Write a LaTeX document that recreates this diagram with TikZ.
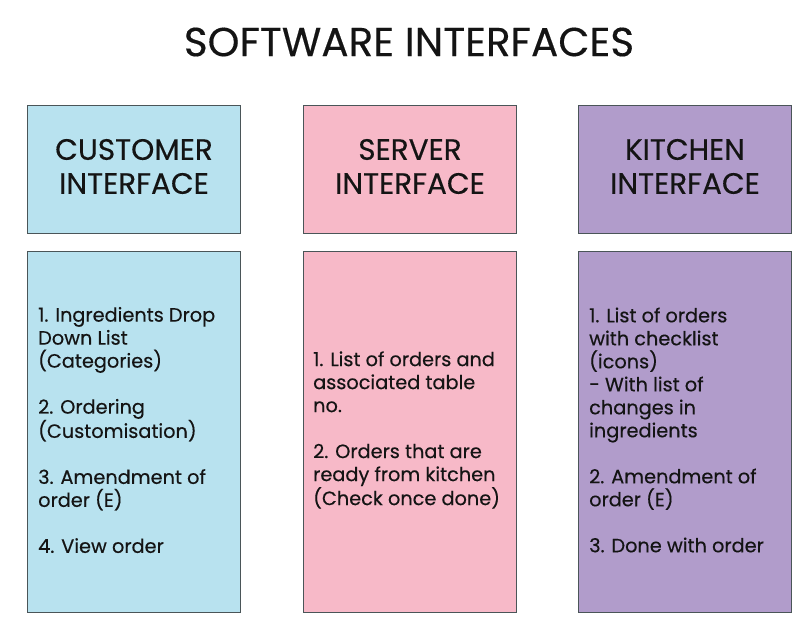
\documentclass[tikz,border=0pt]{standalone}
\usepackage{fontspec}
\setmainfont{Poppins}[FakeBold=0.35]
\definecolor{cblue}{HTML}{B8E2EF}
\definecolor{cpink}{HTML}{F7B9C8}
\definecolor{cpurple}{HTML}{B19CCB}
\definecolor{cborder}{HTML}{4A5558}
\definecolor{ctext}{HTML}{141414}
\begin{document}
\begin{tikzpicture}[x=1pt,y=-1pt,
  box/.style={draw=cborder,line width=1pt,minimum width=213pt,anchor=north west,inner sep=0pt},
  head/.style={box,minimum height=128pt},
  headtxt/.style={align=center,inner sep=0pt,font=\fontsize{29.5}{34}\selectfont,text=ctext,yshift=3pt},
  body/.style={box,minimum height=361pt},
  items/.style={anchor=west,align=left,inner sep=0pt,font=\fontsize{19.3}{23}\selectfont,text=ctext,yshift=2pt}]
\useasboundingbox (0,0) rectangle (812,634);
\node[text=ctext,font=\fontsize{40.5}{44}\selectfont] (title) at (409,42) {SOFTWARE INTERFACES};
\node[head,fill=cblue] (h1) at (27,105) {};
\node[head,fill=cpink] (h2) at (303,105) {};
\node[head,fill=cpurple] (h3) at (578,105) {};
\node[headtxt] (ht1) at (h1.center) {CUSTOMER\\INTERFACE};
\node[headtxt] (ht2) at (h2.center) {SERVER\\INTERFACE};
\node[headtxt] (ht3) at (h3.center) {KITCHEN\\INTERFACE};
\node[body,fill=cblue] (b1) at (27,251) {};
\node[body,fill=cpink] (b2) at (303,251) {};
\node[body,fill=cpurple] (b3) at (578,251) {};
\node[items] (t1) at ([xshift=11pt]b1.west) {1. Ingredients Drop\\Down List\\(Categories)\\[23pt]2. Ordering\\(Customisation)\\[23pt]3. Amendment of\\order (E)\\[23pt]4. View order};
\node[items] (t2) at ([xshift=10pt]b2.west) {1. List of orders and\\associated table\\no.\\[23pt]2. Orders that are\\ready from kitchen\\(Check once done)};
\node[items] (t3) at ([xshift=11pt]b3.west) {1. List of orders\\with checklist\\(icons)\\- With list of\\changes in\\ingredients\\[23pt]2. Amendment of\\order (E)\\[23pt]3. Done with order};
\end{tikzpicture}
\end{document}
